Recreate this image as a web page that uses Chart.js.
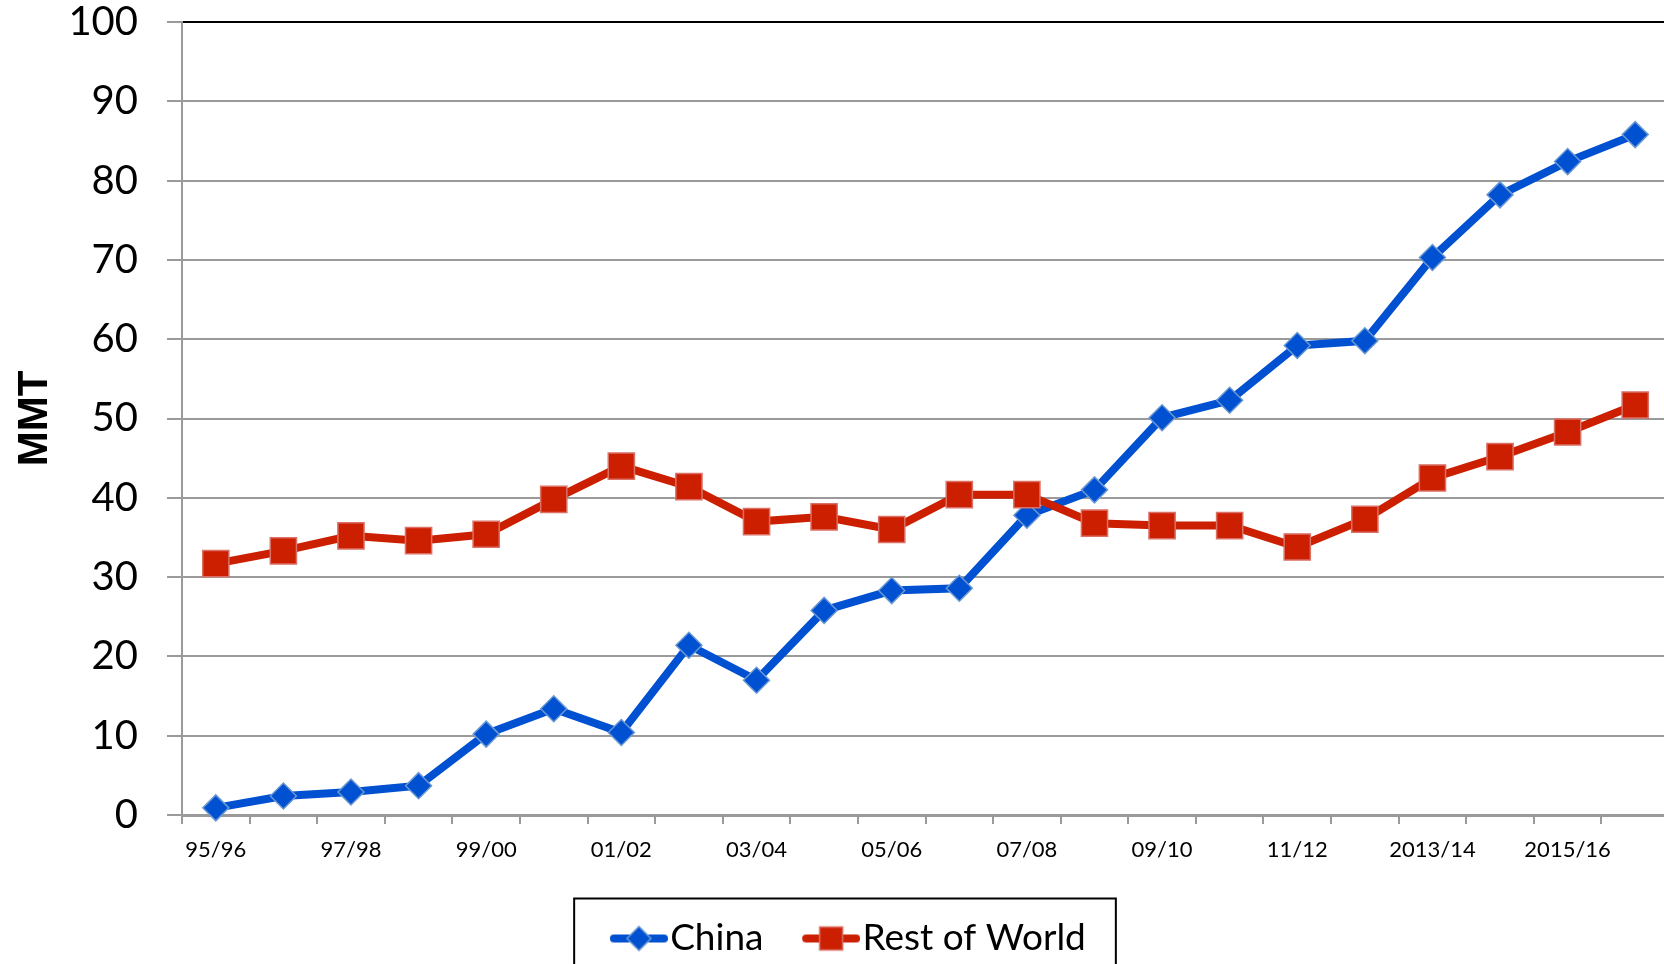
<!DOCTYPE html>
<html>
<head>
<meta charset="utf-8">
<title>China vs Rest of World</title>
<script src="https://cdn.jsdelivr.net/npm/chart.js@4/dist/chart.umd.min.js"></script>
<style>
    html, body { margin: 0; padding: 0; background: #fff; overflow: hidden; }
    #wrap { width: 1672px; height: 1000px; }
</style>
</head>
<body>
<div id="wrap"><canvas id="chart" width="1672" height="1000"></canvas></div>
<script>
const seasons = [
    '95/96', '96/97', '97/98', '98/99', '99/00', '00/01', '01/02', '02/03',
    '03/04', '04/05', '05/06', '06/07', '07/08', '08/09', '09/10', '10/11',
    '11/12', '12/13', '2013/14', '2014/15', '2015/16', '2016/17'
];

const chinaValues = [
    0.9, 2.4, 2.9, 3.7, 10.2, 13.4, 10.4, 21.4, 17.0, 25.8, 28.3,
    28.6, 37.8, 41.0, 50.1, 52.3, 59.2, 59.8, 70.3, 78.2, 82.4, 85.8
];

const restOfWorldValues = [
    31.7, 33.3, 35.2, 34.6, 35.4, 39.8, 44.0, 41.4, 37.0, 37.6, 36.0,
    40.4, 40.4, 36.8, 36.5, 36.5, 33.8, 37.3, 42.5, 45.2, 48.3, 51.7
];

const yMin = 0;
const yMax = 100;
const yStep = 10;

const blue = '#0050d2';
const blueEdge = '#6a98d2';
const red = '#cc1f00';
const redEdge = '#da7066';

// little line + marker image for the legend
const legendSwatch = (color, edge, shape) => {
    const c = document.createElement('canvas');
    c.width = 75;
    c.height = 30;
    const g = c.getContext('2d');
    g.strokeStyle = color;
    g.lineWidth = 8;
    g.lineCap = 'round';
    g.beginPath();
    g.moveTo(21, 15);
    g.lineTo(71, 15);
    g.stroke();
    g.fillStyle = color;
    g.strokeStyle = edge;
    g.lineWidth = 1.5;
    const cx = 46, cy = 15;
    g.beginPath();
    if (shape === 'diamond') {
        g.moveTo(cx, cy - 12);
        g.lineTo(cx + 12, cy);
        g.lineTo(cx, cy + 12);
        g.lineTo(cx - 12, cy);
        g.closePath();
    } else {
        g.rect(cx - 11.5, cy - 11.5, 23, 23);
    }
    g.fill();
    g.stroke();
    return c;
};

const swatches = [
    legendSwatch(blue, blueEdge, 'diamond'),
    legendSwatch(red, redEdge, 'square')
];

const legendFrame = {
    id: 'legendFrame',
    afterLayout(chart) {
        // nudge the legend block a bit right, like the original
        chart.legend.left += 26;
    },
    afterDraw(chart) {
        const boxes = chart.legend.legendHitBoxes;
        if (!boxes || !boxes.length) return;
        const left = Math.min(...boxes.map(b => b.left)) - 35;
        const right = Math.max(...boxes.map(b => b.left + b.width)) + 30;
        const midY = boxes[0].top + boxes[0].height / 2;
        const ctx = chart.ctx;
        ctx.save();
        ctx.strokeStyle = '#000';
        ctx.lineWidth = 2;
        ctx.strokeRect(left, midY - 40, right - left, 200);
        ctx.restore();
    }
};

const ctx = document.getElementById('chart').getContext('2d');
new Chart(ctx, {
    type: 'line',
    data: {
        labels: seasons,
        datasets: [{
            label: 'China',
            data: chinaValues,
            order: 2,
            clip: false,
            borderColor: blue,
            backgroundColor: blue,
            borderWidth: 8,
            pointStyle: 'rectRot',
            pointRadius: 13,
            pointBackgroundColor: blue,
            pointBorderColor: blueEdge,
            pointBorderWidth: 1.5,
            tension: 0
        }, {
            label: 'Rest of World',
            data: restOfWorldValues,
            order: 1,
            clip: false,
            borderColor: red,
            backgroundColor: red,
            borderWidth: 8,
            pointStyle: 'rect',
            pointRadius: 18.5,
            pointBackgroundColor: red,
            pointBorderColor: redEdge,
            pointBorderWidth: 1.5,
            tension: 0
        }]
    },
    options: {
        responsive: false,
        animation: false,
        layout: {
            autoPadding: false,
            padding: { left: 0, top: 22, right: 3, bottom: 33 }
        },
        scales: {
            x: {
                offset: true,
                afterFit: (scale) => {
                    scale.height = 67;
                    scale.paddingLeft = 0;
                    scale.paddingRight = 0;
                },
                grid: {
                    offset: true,
                    drawOnChartArea: false,
                    drawTicks: true,
                    tickLength: 9,
                    color: '#9a9a9a',
                    lineWidth: 2
                },
                border: { color: '#9a9a9a', width: 3 },
                ticks: {
                    autoSkip: false,
                    maxRotation: 0,
                    minRotation: 0,
                    padding: 13,
                    color: '#000',
                    font: { family: 'Lato', size: 22 },
                    callback: function (value, index) {
                        return index % 2 === 0 ? this.getLabelForValue(value) : '';
                    }
                }
            },
            y: {
                min: yMin,
                max: yMax,
                afterFit: (scale) => {
                    scale.width = 182;
                    scale.paddingTop = 0;
                    scale.paddingBottom = 0;
                },
                grid: {
                    color: (c) => c.tick && c.tick.value === yMax ? '#000' : '#9a9a9a',
                    tickColor: '#9a9a9a',
                    lineWidth: 2,
                    tickLength: 15
                },
                border: { color: '#9a9a9a', width: 2 },
                ticks: {
                    stepSize: yStep,
                    padding: 29,
                    color: '#000',
                    font: { family: 'Lato', size: 40, lineHeight: 1.0 }
                },
                title: {
                    display: true,
                    text: 'MMT',
                    color: '#000',
                    padding: { top: 10, bottom: 0 },
                    font: { family: 'Liberation Sans', size: 42, weight: 'bold' }
                }
            }
        },
        plugins: {
            tooltip: { enabled: false },
            legend: {
                position: 'bottom',
                labels: {
                    color: '#000',
                    font: { family: 'Lato', size: 37 },
                    padding: 38,
                    usePointStyle: true,
                    pointStyleWidth: 42.5,
                    sort: (a, b) => a.datasetIndex - b.datasetIndex,
                    generateLabels: (chart) => {
                        const items = Chart.defaults.plugins.legend.labels.generateLabels(chart);
                        items.forEach((item) => { item.pointStyle = swatches[item.datasetIndex]; });
                        return items;
                    }
                }
            }
        }
    },
    plugins: [legendFrame]
});
</script>
</body>
</html>
